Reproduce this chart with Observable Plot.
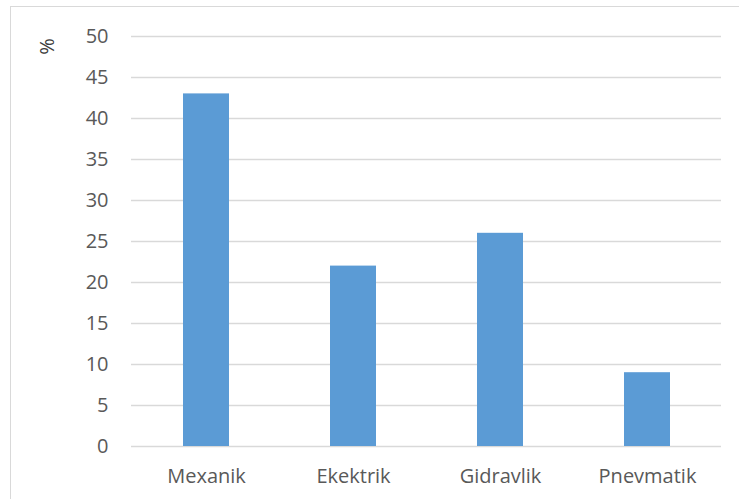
<!DOCTYPE html>
<html>
<head>
<meta charset="utf-8">
<script src="https://cdn.jsdelivr.net/npm/d3@7"></script>
<script src="https://cdn.jsdelivr.net/npm/@observablehq/plot@0.6"></script>
<style>
  html, body { margin: 0; padding: 0; background: #fff; overflow: hidden; }
  #frame { position: absolute; left: 10px; top: 6px; width: 760px; height: 520px; border: 1.5px solid #d9d9d9; box-sizing: border-box; }
  #chart { position: absolute; left: 0; top: 0; }
</style>
</head>
<body>
<div id="frame"></div>
<div id="chart"></div>
<script>
const categories = ["Mexanik", "Ekektrik", "Gidravlik", "Pnevmatik"];
const values = [43, 22, 26, 9];
const yTicks = [0, 5, 10, 15, 20, 25, 30, 35, 40, 45, 50];
const yLabel = "%";

const data = categories.map((c, i) => ({ category: c, value: values[i] }));

const plot = Plot.plot({
  width: 739,
  height: 499,
  marginLeft: 131,
  marginRight: 18,
  marginTop: 36,
  marginBottom: 53,
  style: { fontFamily: "'Open Sans', sans-serif", fontSize: "20px", color: "#595959", background: "transparent" },
  x: { domain: categories, paddingInner: 0.688, paddingOuter: 0.344, label: null },
  y: { domain: [0, 50], ticks: yTicks, label: null },
  marks: [
    Plot.gridY(yTicks, { stroke: "#d9d9d9", strokeOpacity: 1, strokeWidth: 1.5 }),
    Plot.barY(data, { x: "category", y: "value", fill: "#5b9bd5" }),
    Plot.axisY({ ticks: yTicks, tickSize: 0, tickPadding: 23, label: null, fill: "#595959" }),
    Plot.axisX({ tickSize: 0, tickPadding: 22, label: null, fill: "#595959" }),
    Plot.text([yLabel], { frameAnchor: "top-left", dx: -84, dy: 10, rotate: -90, textAnchor: "middle", lineAnchor: "middle", fill: "#404040", fontSize: 20 })
  ]
});
document.getElementById("chart").appendChild(plot);
</script>
</body>
</html>
